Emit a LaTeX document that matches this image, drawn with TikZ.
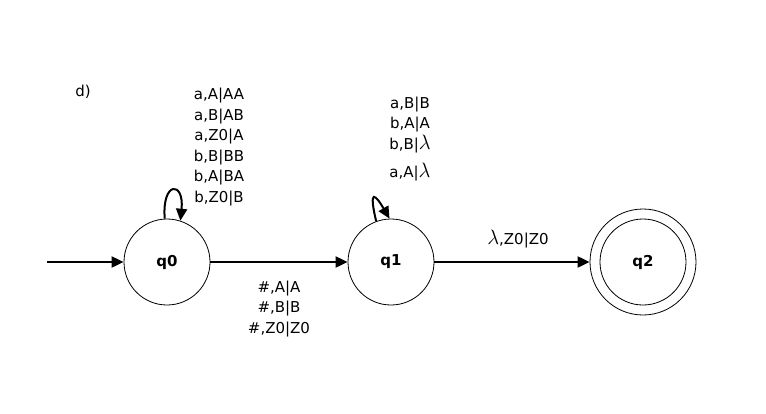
\documentclass[tikz,border=0pt]{standalone}
\usepackage{fontspec}
\setmainfont{DejaVu Sans}
\usetikzlibrary{positioning,arrows.meta,calc}

\newcommand{\lam}{{\fontsize{20}{20}\selectfont$\lambda$}}

\tikzset{
  state/.style={draw, circle, minimum size=86pt, inner sep=0pt, line width=0.8pt, font=\fontsize{15}{18}\selectfont\bfseries},
  trans/.style={-{Triangle[length=12pt,width=11pt]}, line width=2pt},
  lbl/.style={align=center, inner sep=0pt, font=\fontsize{15}{20.5}\selectfont},
}

\begin{document}
\begin{tikzpicture}[x=1pt, y=-1pt, font=\fontsize{15}{18}\selectfont]
  \useasboundingbox (0,0) rectangle (766,413);
  % states
  \node[name=q0, state] at (167,262) {q0};
  \node[name=q1, state] at (391,262) {q1};
  \node[name=q2, state] at (643,262) {q2};
  \node[name=q2out, draw, circle, minimum size=106pt, line width=0.8pt] at (q2.center) {};
  \node[name=tag] at (83,92) {d)};
  \coordinate (start) at (47,262);
  % transitions
  \draw[trans] (start) -- (q0);
  \draw[trans] (q0) -- node[name=hash, lbl, below=18pt] {\#,A|A\\ \#,B|B\\ \#,Z0|Z0} (q1);
  \draw[trans] (q1) -- node[name=lam, lbl, above=13pt, xshift=6pt] {\lam,Z0|Z0} (q2out);
  % loops
  \draw[trans] (q0.93) .. controls +(-3,-38) and +(4,-40) .. (q0.72);
  \draw[trans] (q1.110) .. controls +(-8,-34) and +(-14,-24) .. (q1.92);
  \node[name=push, lbl] at (219,147) {a,A|AA\\ a,B|AB\\ a,Z0|A\\ b,B|BB\\ b,A|BA\\ b,Z0|B};
  \node[name=pop, lbl] at (410,139) {a,B|B\\ b,A|A\\ b,B|\lam\\[8pt] a,A|\lam};
\end{tikzpicture}
\end{document}
